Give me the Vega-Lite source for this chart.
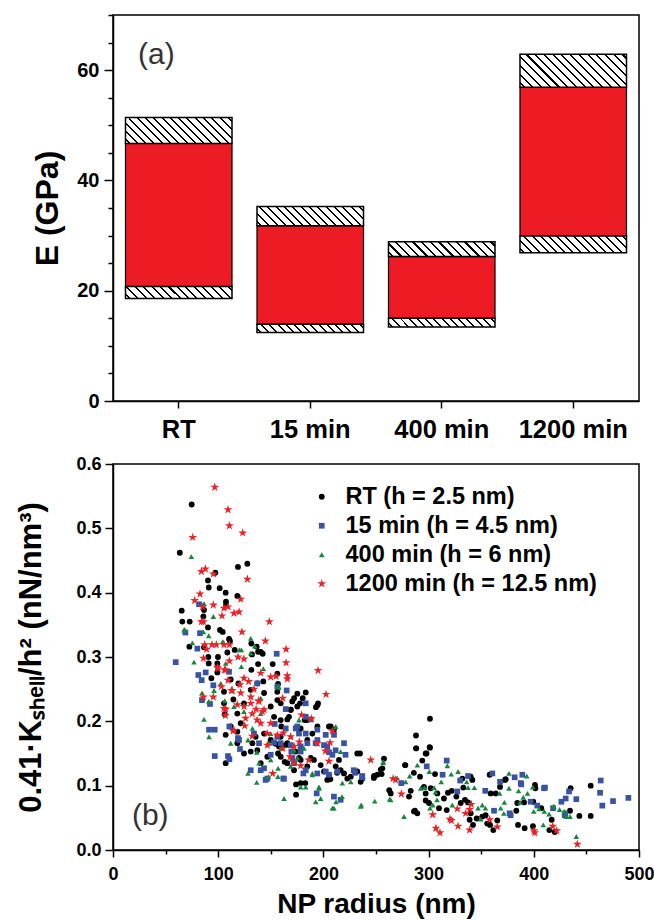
{
  "$schema": "https://vega.github.io/schema/vega-lite/v6.json",
  "padding": {"left": 15, "top": 4, "right": 4, "bottom": 0},
  "autosize": {"type": "pad"},
  "spacing": 10,
  "resolve": {"legend": {"color": "independent", "shape": "independent", "size": "independent"}},
  "config": {
    "font": "Liberation Sans",
    "view": {"stroke": "#000", "strokeWidth": 1.5},
    "axis": {"domainColor": "#000", "domainWidth": 1.5, "tickColor": "#000", "tickWidth": 1.5, "labelFont": "Liberation Sans", "labelFontWeight": "bold", "labelColor": "#000", "titleFont": "Liberation Sans", "titleFontWeight": "bold", "titleColor": "#000", "grid": false, "labelOverlap": false, "labelFlush": false}
  },
  "datasets": {
    "boxes": [
      {"t": "RT", "p": "bh", "lo": 18.6, "hi": 20.75},
      {"t": "RT", "p": "red", "lo": 20.75, "hi": 46.7},
      {"t": "RT", "p": "th", "lo": 46.7, "hi": 51.4},
      {"t": "15 min", "p": "bh", "lo": 12.4, "hi": 13.9},
      {"t": "15 min", "p": "red", "lo": 13.9, "hi": 31.8},
      {"t": "15 min", "p": "th", "lo": 31.8, "hi": 35.25},
      {"t": "400 min", "p": "bh", "lo": 13.4, "hi": 15.0},
      {"t": "400 min", "p": "red", "lo": 15.0, "hi": 26.2},
      {"t": "400 min", "p": "th", "lo": 26.2, "hi": 28.9},
      {"t": "1200 min", "p": "bh", "lo": 26.9, "hi": 29.9},
      {"t": "1200 min", "p": "red", "lo": 29.9, "hi": 56.9},
      {"t": "1200 min", "p": "th", "lo": 56.9, "hi": 62.9}
    ],
    "pts": [
      {"g":"RT","x":74.8,"y":0.537},{"g":"RT","x":63.5,"y":0.462},{"g":"RT","x":65.3,"y":0.372},{"g":"RT","x":65.9,"y":0.355},{"g":"RT","x":72.9,"y":0.355},{"g":"RT","x":72.6,"y":0.316},{"g":"RT","x":97.3,"y":0.431},{"g":"RT","x":90.3,"y":0.419},{"g":"RT","x":91,"y":0.408},{"g":"RT","x":101.4,"y":0.407},{"g":"RT","x":107.1,"y":0.4},{"g":"RT","x":118.8,"y":0.44},{"g":"RT","x":127.7,"y":0.445},{"g":"RT","x":118.2,"y":0.395},{"g":"RT","x":86.5,"y":0.373},{"g":"RT","x":85.9,"y":0.363},{"g":"RT","x":90.3,"y":0.346},{"g":"RT","x":101.7,"y":0.342},{"g":"RT","x":104.3,"y":0.339},{"g":"RT","x":107.4,"y":0.386},{"g":"RT","x":107.4,"y":0.381},{"g":"RT","x":86.5,"y":0.315},{"g":"RT","x":90.6,"y":0.3},{"g":"RT","x":99.8,"y":0.3},{"g":"RT","x":91,"y":0.29},{"g":"RT","x":99.2,"y":0.29},{"g":"RT","x":108.7,"y":0.307},{"g":"RT","x":111.2,"y":0.325},{"g":"RT","x":110.3,"y":0.328},{"g":"RT","x":115.7,"y":0.311},{"g":"RT","x":131.5,"y":0.321},{"g":"RT","x":132.1,"y":0.304},{"g":"RT","x":137.9,"y":0.308},{"g":"RT","x":137.9,"y":0.289},{"g":"RT","x":142.3,"y":0.305},{"g":"RT","x":136.6,"y":0.316},{"g":"RT","x":140.4,"y":0.308},{"g":"RT","x":151.8,"y":0.289},{"g":"RT","x":131.5,"y":0.28},{"g":"RT","x":142.9,"y":0.262},{"g":"RT","x":156.2,"y":0.274},{"g":"RT","x":156.9,"y":0.258},{"g":"RT","x":99.2,"y":0.276},{"g":"RT","x":93.5,"y":0.267},{"g":"RT","x":111.9,"y":0.265},{"g":"RT","x":105.5,"y":0.246},{"g":"RT","x":114.4,"y":0.234},{"g":"RT","x":106.2,"y":0.211},{"g":"RT","x":107.1,"y":0.179},{"g":"RT","x":107.1,"y":0.135},{"g":"RT","x":124.5,"y":0.228},{"g":"RT","x":130.9,"y":0.249},{"g":"RT","x":119.2,"y":0.259},{"g":"RT","x":121.4,"y":0.197},{"g":"RT","x":118.2,"y":0.184},{"g":"RT","x":132.5,"y":0.166},{"g":"RT","x":137.2,"y":0.155},{"g":"RT","x":143.6,"y":0.181},{"g":"RT","x":149.9,"y":0.171},{"g":"RT","x":159.4,"y":0.176},{"g":"RT","x":160,"y":0.192},{"g":"RT","x":165.7,"y":0.203},{"g":"RT","x":168.9,"y":0.218},{"g":"RT","x":175.2,"y":0.243},{"g":"RT","x":183.2,"y":0.245},{"g":"RT","x":180.3,"y":0.236},{"g":"RT","x":177.8,"y":0.228},{"g":"RT","x":172.1,"y":0.236},{"g":"RT","x":194.3,"y":0.225},{"g":"RT","x":194.9,"y":0.228},{"g":"RT","x":194.3,"y":0.192},{"g":"RT","x":206.9,"y":0.192},{"g":"RT","x":182.2,"y":0.202},{"g":"RT","x":156.9,"y":0.15},{"g":"RT","x":163.2,"y":0.137},{"g":"RT","x":172.1,"y":0.124},{"g":"RT","x":174,"y":0.102},{"g":"RT","x":182.8,"y":0.104},{"g":"RT","x":174,"y":0.086},{"g":"RT","x":187.9,"y":0.143},{"g":"RT","x":197.4,"y":0.132},{"g":"RT","x":200.6,"y":0.122},{"g":"RT","x":203.7,"y":0.109},{"g":"RT","x":146.7,"y":0.145},{"g":"RT","x":140.4,"y":0.135},{"g":"RT","x":130.9,"y":0.153},{"g":"RT","x":124.5,"y":0.15},{"g":"RT","x":118.2,"y":0.166},{"g":"RT","x":135.6,"y":0.176},{"g":"RT","x":154.6,"y":0.165},{"g":"RT","x":165.7,"y":0.166},{"g":"RT","x":178.4,"y":0.159},{"g":"RT","x":176.8,"y":0.143},{"g":"RT","x":184.7,"y":0.171},{"g":"RT","x":149.9,"y":0.223},{"g":"RT","x":156.2,"y":0.233},{"g":"RT","x":137.2,"y":0.259},{"g":"RT","x":143.6,"y":0.244},{"g":"RT","x":153.1,"y":0.207},{"g":"RT","x":118.2,"y":0.212},{"g":"RT","x":105.5,"y":0.228},{"g":"RT","x":111.9,"y":0.192},{"g":"RT","x":156.2,"y":0.246},{"g":"RT","x":159.4,"y":0.228},{"g":"RT","x":170.4,"y":0.231},{"g":"RT","x":175.2,"y":0.223},{"g":"RT","x":169,"y":0.218},{"g":"RT","x":167.3,"y":0.207},{"g":"RT","x":192.9,"y":0.222},{"g":"RT","x":184.7,"y":0.202},{"g":"RT","x":159.4,"y":0.202},{"g":"RT","x":205.3,"y":0.192},{"g":"RT","x":210,"y":0.187},{"g":"RT","x":189.5,"y":0.181},{"g":"RT","x":178.4,"y":0.189},{"g":"RT","x":157.8,"y":0.161},{"g":"RT","x":164,"y":0.163},{"g":"RT","x":173.7,"y":0.153},{"g":"RT","x":178.4,"y":0.14},{"g":"RT","x":159.4,"y":0.145},{"g":"RT","x":165.7,"y":0.135},{"g":"RT","x":184.7,"y":0.13},{"g":"RT","x":191,"y":0.14},{"g":"RT","x":205.3,"y":0.116},{"g":"RT","x":211.7,"y":0.13},{"g":"RT","x":216.4,"y":0.124},{"g":"RT","x":214.8,"y":0.14},{"g":"RT","x":219.6,"y":0.119},{"g":"RT","x":226,"y":0.114},{"g":"RT","x":232.2,"y":0.122},{"g":"RT","x":237,"y":0.111},{"g":"RT","x":234.8,"y":0.15},{"g":"RT","x":232.2,"y":0.15},{"g":"RT","x":248.1,"y":0.115},{"g":"RT","x":251.3,"y":0.117},{"g":"RT","x":256,"y":0.127},{"g":"RT","x":178.4,"y":0.104},{"g":"RT","x":301.3,"y":0.204},{"g":"RT","x":288,"y":0.178},{"g":"RT","x":288,"y":0.158},{"g":"RT","x":301.3,"y":0.159},{"g":"RT","x":297.2,"y":0.15},{"g":"RT","x":294,"y":0.139},{"g":"RT","x":277.9,"y":0.132},{"g":"RT","x":254.5,"y":0.125},{"g":"RT","x":248,"y":0.112},{"g":"RT","x":235.4,"y":0.106},{"g":"RT","x":222.7,"y":0.111},{"g":"RT","x":213,"y":0.12},{"g":"RT","x":206.5,"y":0.11},{"g":"RT","x":262.6,"y":0.093},{"g":"RT","x":264,"y":0.088},{"g":"RT","x":281.4,"y":0.083},{"g":"RT","x":286.1,"y":0.06},{"g":"RT","x":289.3,"y":0.057},{"g":"RT","x":291.8,"y":0.114},{"g":"RT","x":286,"y":0.12},{"g":"RT","x":295.6,"y":0.098},{"g":"RT","x":302,"y":0.096},{"g":"RT","x":297.2,"y":0.077},{"g":"RT","x":297.2,"y":0.088},{"g":"RT","x":306.1,"y":0.118},{"g":"RT","x":308.3,"y":0.088},{"g":"RT","x":300.4,"y":0.073},{"g":"RT","x":309.9,"y":0.065},{"g":"RT","x":314.6,"y":0.08},{"g":"RT","x":317.2,"y":0.062},{"g":"RT","x":318.4,"y":0.089},{"g":"RT","x":322,"y":0.092},{"g":"RT","x":326.4,"y":0.083},{"g":"RT","x":330.5,"y":0.073},{"g":"RT","x":333,"y":0.097},{"g":"RT","x":332.1,"y":0.111},{"g":"RT","x":337.5,"y":0.074},{"g":"RT","x":334.6,"y":0.078},{"g":"RT","x":340,"y":0.057},{"g":"RT","x":339,"y":0.047},{"g":"RT","x":342.2,"y":0.039},{"g":"RT","x":345.7,"y":0.049},{"g":"RT","x":340,"y":0.114},{"g":"RT","x":341.6,"y":0.109},{"g":"RT","x":351,"y":0.052},{"g":"RT","x":354.2,"y":0.054},{"g":"RT","x":355.7,"y":0.041},{"g":"RT","x":358,"y":0.117},{"g":"RT","x":358.4,"y":0.039},{"g":"RT","x":361.5,"y":0.031},{"g":"RT","x":365.3,"y":0.046},{"g":"RT","x":359,"y":0.088},{"g":"RT","x":363.8,"y":0.088},{"g":"RT","x":367.9,"y":0.098},{"g":"RT","x":372.6,"y":0.109},{"g":"RT","x":373.3,"y":0.11},{"g":"RT","x":383.4,"y":0.061},{"g":"RT","x":384.3,"y":0.073},{"g":"RT","x":385,"y":0.039},{"g":"RT","x":391.3,"y":0.034},{"g":"RT","x":399.2,"y":0.037},{"g":"RT","x":401.1,"y":0.101},{"g":"RT","x":401.5,"y":0.096},{"g":"RT","x":399.5,"y":0.075},{"g":"RT","x":407.1,"y":0.065},{"g":"RT","x":414.8,"y":0.031},{"g":"RT","x":419.9,"y":0.028},{"g":"RT","x":417,"y":0.047},{"g":"RT","x":434.4,"y":0.061},{"g":"RT","x":435,"y":0.096},{"g":"RT","x":443.3,"y":0.053},{"g":"RT","x":454.1,"y":0.1},{"g":"RT","x":454.1,"y":0.053},{"g":"RT","x":390.7,"y":0.074},{"g":"RT","x":257.6,"y":0.142},{"g":"RT","x":255.4,"y":0.118},{"g":"RT","x":288.3,"y":0.158},{"g":"RT","x":301,"y":0.16},{"g":"RT","x":298,"y":0.15},{"g":"RT","x":277.6,"y":0.132},{"g":"RT","x":283,"y":0.092},{"g":"RT","x":287,"y":0.061},
      {"g":"15 min","x":59.6,"y":0.292},{"g":"15 min","x":68.8,"y":0.338},{"g":"15 min","x":81.8,"y":0.382},{"g":"15 min","x":82.7,"y":0.337},{"g":"15 min","x":80.2,"y":0.313},{"g":"15 min","x":81.1,"y":0.272},{"g":"15 min","x":84.3,"y":0.264},{"g":"15 min","x":88.1,"y":0.276},{"g":"15 min","x":84.6,"y":0.233},{"g":"15 min","x":92.2,"y":0.227},{"g":"15 min","x":95.4,"y":0.256},{"g":"15 min","x":91.3,"y":0.187},{"g":"15 min","x":96.7,"y":0.187},{"g":"15 min","x":96.7,"y":0.146},{"g":"15 min","x":110.3,"y":0.277},{"g":"15 min","x":110.6,"y":0.192},{"g":"15 min","x":109.3,"y":0.146},{"g":"15 min","x":110.6,"y":0.141},{"g":"15 min","x":120.7,"y":0.157},{"g":"15 min","x":118.8,"y":0.174},{"g":"15 min","x":140.4,"y":0.124},{"g":"15 min","x":145.1,"y":0.109},{"g":"15 min","x":143.5,"y":0.127},{"g":"15 min","x":146.7,"y":0.111},{"g":"15 min","x":161.9,"y":0.111},{"g":"15 min","x":155.6,"y":0.305},{"g":"15 min","x":156.2,"y":0.254},{"g":"15 min","x":165.1,"y":0.248},{"g":"15 min","x":153.7,"y":0.196},{"g":"15 min","x":156.2,"y":0.176},{"g":"15 min","x":175.2,"y":0.192},{"g":"15 min","x":183.2,"y":0.207},{"g":"15 min","x":194.3,"y":0.171},{"g":"15 min","x":203.7,"y":0.161},{"g":"15 min","x":205.3,"y":0.152},{"g":"15 min","x":202.2,"y":0.122},{"g":"15 min","x":205.3,"y":0.117},{"g":"15 min","x":193.6,"y":0.088},{"g":"15 min","x":210,"y":0.083},{"g":"15 min","x":178.4,"y":0.153},{"g":"15 min","x":169.5,"y":0.153},{"g":"15 min","x":172.1,"y":0.135},{"g":"15 min","x":181,"y":0.119},{"g":"15 min","x":183.2,"y":0.124},{"g":"15 min","x":149.9,"y":0.148},{"g":"15 min","x":138.8,"y":0.166},{"g":"15 min","x":130.9,"y":0.124},{"g":"15 min","x":119.8,"y":0.171},{"g":"15 min","x":176.8,"y":0.181},{"g":"15 min","x":137.2,"y":0.259},{"g":"15 min","x":134,"y":0.181},{"g":"15 min","x":183.2,"y":0.228},{"g":"15 min","x":164.2,"y":0.219},{"g":"15 min","x":187.9,"y":0.203},{"g":"15 min","x":173.7,"y":0.189},{"g":"15 min","x":164.2,"y":0.189},{"g":"15 min","x":194.2,"y":0.187},{"g":"15 min","x":183.2,"y":0.181},{"g":"15 min","x":202.2,"y":0.179},{"g":"15 min","x":153,"y":0.167},{"g":"15 min","x":159.4,"y":0.166},{"g":"15 min","x":169,"y":0.163},{"g":"15 min","x":178.4,"y":0.161},{"g":"15 min","x":184.7,"y":0.166},{"g":"15 min","x":192.6,"y":0.166},{"g":"15 min","x":200.6,"y":0.163},{"g":"15 min","x":211.6,"y":0.155},{"g":"15 min","x":219.6,"y":0.166},{"g":"15 min","x":208.5,"y":0.148},{"g":"15 min","x":221,"y":0.148},{"g":"15 min","x":170.5,"y":0.143},{"g":"15 min","x":194.2,"y":0.119},{"g":"15 min","x":213.2,"y":0.122},{"g":"15 min","x":230,"y":0.12},{"g":"15 min","x":237,"y":0.113},{"g":"15 min","x":162.5,"y":0.111},{"g":"15 min","x":210.1,"y":0.179},{"g":"15 min","x":216.4,"y":0.078},{"g":"15 min","x":228.8,"y":0.124},{"g":"15 min","x":236.8,"y":0.115},{"g":"15 min","x":298.2,"y":0.13},{"g":"15 min","x":274,"y":0.104},{"g":"15 min","x":317.2,"y":0.139},{"g":"15 min","x":313.3,"y":0.117},{"g":"15 min","x":327.3,"y":0.091},{"g":"15 min","x":330,"y":0.108},{"g":"15 min","x":337.5,"y":0.115},{"g":"15 min","x":353.9,"y":0.092},{"g":"15 min","x":360.6,"y":0.119},{"g":"15 min","x":367.9,"y":0.106},{"g":"15 min","x":362.2,"y":0.061},{"g":"15 min","x":377,"y":0.057},{"g":"15 min","x":381.8,"y":0.113},{"g":"15 min","x":389.1,"y":0.117},{"g":"15 min","x":387.6,"y":0.104},{"g":"15 min","x":397,"y":0.075},{"g":"15 min","x":409.7,"y":0.096},{"g":"15 min","x":403.3,"y":0.069},{"g":"15 min","x":426.2,"y":0.075},{"g":"15 min","x":430.3,"y":0.08},{"g":"15 min","x":433.5,"y":0.091},{"g":"15 min","x":430,"y":0.057},{"g":"15 min","x":440.4,"y":0.079},{"g":"15 min","x":463.6,"y":0.108},{"g":"15 min","x":463,"y":0.089},{"g":"15 min","x":465.1,"y":0.069},{"g":"15 min","x":475.3,"y":0.076},{"g":"15 min","x":489.9,"y":0.081},{"g":"15 min","x":410.6,"y":0.097},{"g":"15 min","x":378,"y":0.054},{"g":"15 min","x":418.3,"y":0.065},{"g":"15 min","x":429.4,"y":0.054},{"g":"15 min","x":388.1,"y":0.102},
      {"g":"400 min","x":74.5,"y":0.456},{"g":"400 min","x":67.5,"y":0.342},{"g":"400 min","x":75.4,"y":0.322},{"g":"400 min","x":77,"y":0.292},{"g":"400 min","x":86.5,"y":0.383},{"g":"400 min","x":85.9,"y":0.339},{"g":"400 min","x":95.4,"y":0.363},{"g":"400 min","x":91,"y":0.333},{"g":"400 min","x":84.6,"y":0.244},{"g":"400 min","x":91,"y":0.231},{"g":"400 min","x":86.5,"y":0.203},{"g":"400 min","x":91.3,"y":0.176},{"g":"400 min","x":104.9,"y":0.322},{"g":"400 min","x":107.1,"y":0.29},{"g":"400 min","x":122,"y":0.311},{"g":"400 min","x":122,"y":0.285},{"g":"400 min","x":130.9,"y":0.329},{"g":"400 min","x":134.7,"y":0.317},{"g":"400 min","x":130.9,"y":0.306},{"g":"400 min","x":142.9,"y":0.282},{"g":"400 min","x":102.4,"y":0.259},{"g":"400 min","x":96,"y":0.248},{"g":"400 min","x":106.2,"y":0.232},{"g":"400 min","x":115,"y":0.223},{"g":"400 min","x":124.5,"y":0.215},{"g":"400 min","x":140.4,"y":0.212},{"g":"400 min","x":157.8,"y":0.253},{"g":"400 min","x":140.4,"y":0.236},{"g":"400 min","x":111.9,"y":0.166},{"g":"400 min","x":128.3,"y":0.171},{"g":"400 min","x":132.5,"y":0.189},{"g":"400 min","x":136.6,"y":0.152},{"g":"400 min","x":138.8,"y":0.135},{"g":"400 min","x":128.3,"y":0.119},{"g":"400 min","x":136.6,"y":0.105},{"g":"400 min","x":147.7,"y":0.114},{"g":"400 min","x":149.9,"y":0.14},{"g":"400 min","x":156.9,"y":0.127},{"g":"400 min","x":162.6,"y":0.08},{"g":"400 min","x":168.9,"y":0.13},{"g":"400 min","x":178.4,"y":0.098},{"g":"400 min","x":183.2,"y":0.098},{"g":"400 min","x":192.7,"y":0.075},{"g":"400 min","x":197.4,"y":0.08},{"g":"400 min","x":195.8,"y":0.098},{"g":"400 min","x":189.5,"y":0.119},{"g":"400 min","x":176.8,"y":0.202},{"g":"400 min","x":168.9,"y":0.176},{"g":"400 min","x":181.6,"y":0.158},{"g":"400 min","x":159.4,"y":0.158},{"g":"400 min","x":208.5,"y":0.065},{"g":"400 min","x":172.1,"y":0.155},{"g":"400 min","x":175.2,"y":0.143},{"g":"400 min","x":149.9,"y":0.181},{"g":"400 min","x":148.3,"y":0.166},{"g":"400 min","x":156.8,"y":0.254},{"g":"400 min","x":211.7,"y":0.192},{"g":"400 min","x":156.8,"y":0.114},{"g":"400 min","x":195.8,"y":0.096},{"g":"400 min","x":210,"y":0.065},{"g":"400 min","x":212,"y":0.075},{"g":"400 min","x":236,"y":0.07},{"g":"400 min","x":248.8,"y":0.076},{"g":"400 min","x":226,"y":0.106},{"g":"400 min","x":189.5,"y":0.117},{"g":"400 min","x":216.4,"y":0.153},{"g":"400 min","x":218,"y":0.104},{"g":"400 min","x":217.7,"y":0.083},{"g":"400 min","x":235.4,"y":0.068},{"g":"400 min","x":257,"y":0.137},{"g":"400 min","x":264,"y":0.078},{"g":"400 min","x":276.6,"y":0.052},{"g":"400 min","x":278.2,"y":0.106},{"g":"400 min","x":282,"y":0.115},{"g":"400 min","x":270,"y":0.112},{"g":"400 min","x":289.3,"y":0.132},{"g":"400 min","x":292.5,"y":0.096},{"g":"400 min","x":296,"y":0.097},{"g":"400 min","x":300.7,"y":0.122},{"g":"400 min","x":305.2,"y":0.097},{"g":"400 min","x":306.5,"y":0.09},{"g":"400 min","x":301.3,"y":0.065},{"g":"400 min","x":304,"y":0.07},{"g":"400 min","x":308,"y":0.078},{"g":"400 min","x":307,"y":0.034},{"g":"400 min","x":312,"y":0.106},{"g":"400 min","x":317.8,"y":0.131},{"g":"400 min","x":321.5,"y":0.118},{"g":"400 min","x":328,"y":0.122},{"g":"400 min","x":322.5,"y":0.07},{"g":"400 min","x":336.2,"y":0.106},{"g":"400 min","x":337.5,"y":0.097},{"g":"400 min","x":343.5,"y":0.097},{"g":"400 min","x":347,"y":0.065},{"g":"400 min","x":349.5,"y":0.048},{"g":"400 min","x":351,"y":0.07},{"g":"400 min","x":354,"y":0.065},{"g":"400 min","x":367.5,"y":0.088},{"g":"400 min","x":368.5,"y":0.065},{"g":"400 min","x":371.5,"y":0.057},{"g":"400 min","x":372,"y":0.074},{"g":"400 min","x":376.4,"y":0.119},{"g":"400 min","x":376.4,"y":0.096},{"g":"400 min","x":385.5,"y":0.092},{"g":"400 min","x":387,"y":0.074},{"g":"400 min","x":390,"y":0.082},{"g":"400 min","x":393.3,"y":0.115},{"g":"400 min","x":394,"y":0.088},{"g":"400 min","x":399,"y":0.098},{"g":"400 min","x":400,"y":0.06},{"g":"400 min","x":405,"y":0.064},{"g":"400 min","x":410,"y":0.06},{"g":"400 min","x":409,"y":0.039},{"g":"400 min","x":414.5,"y":0.056},{"g":"400 min","x":419,"y":0.068},{"g":"400 min","x":424.5,"y":0.063},{"g":"400 min","x":429,"y":0.06},{"g":"400 min","x":434.4,"y":0.052},{"g":"400 min","x":431,"y":0.052},{"g":"400 min","x":440.4,"y":0.021},{"g":"400 min","x":263,"y":0.079},{"g":"400 min","x":256.7,"y":0.136},{"g":"400 min","x":120.1,"y":0.311},{"g":"400 min","x":104.3,"y":0.324},{"g":"400 min","x":68.1,"y":0.343},
      {"g":"1200 min","x":96.7,"y":0.564},{"g":"1200 min","x":109.3,"y":0.529},{"g":"1200 min","x":110.6,"y":0.504},{"g":"1200 min","x":123.3,"y":0.493},{"g":"1200 min","x":75.7,"y":0.486},{"g":"1200 min","x":87.8,"y":0.437},{"g":"1200 min","x":84,"y":0.433},{"g":"1200 min","x":95.4,"y":0.429},{"g":"1200 min","x":127.7,"y":0.421},{"g":"1200 min","x":82.7,"y":0.398},{"g":"1200 min","x":77.6,"y":0.388},{"g":"1200 min","x":121.4,"y":0.39},{"g":"1200 min","x":85.2,"y":0.378},{"g":"1200 min","x":95.4,"y":0.381},{"g":"1200 min","x":105.5,"y":0.376},{"g":"1200 min","x":109.3,"y":0.378},{"g":"1200 min","x":119.8,"y":0.37},{"g":"1200 min","x":115,"y":0.368},{"g":"1200 min","x":103.6,"y":0.364},{"g":"1200 min","x":148.6,"y":0.355},{"g":"1200 min","x":84,"y":0.355},{"g":"1200 min","x":86,"y":0.355},{"g":"1200 min","x":122.6,"y":0.339},{"g":"1200 min","x":87.2,"y":0.319},{"g":"1200 min","x":94.1,"y":0.319},{"g":"1200 min","x":98.2,"y":0.319},{"g":"1200 min","x":105.5,"y":0.319},{"g":"1200 min","x":110.6,"y":0.319},{"g":"1200 min","x":89,"y":0.312},{"g":"1200 min","x":144.8,"y":0.325},{"g":"1200 min","x":164.5,"y":0.312},{"g":"1200 min","x":118.8,"y":0.3},{"g":"1200 min","x":124.5,"y":0.297},{"g":"1200 min","x":86,"y":0.298},{"g":"1200 min","x":110.6,"y":0.294},{"g":"1200 min","x":164.5,"y":0.291},{"g":"1200 min","x":194.9,"y":0.279},{"g":"1200 min","x":99.8,"y":0.282},{"g":"1200 min","x":106,"y":0.28},{"g":"1200 min","x":155,"y":0.27},{"g":"1200 min","x":165.7,"y":0.271},{"g":"1200 min","x":165.7,"y":0.266},{"g":"1200 min","x":109.3,"y":0.264},{"g":"1200 min","x":124.5,"y":0.267},{"g":"1200 min","x":112.5,"y":0.248},{"g":"1200 min","x":120.7,"y":0.257},{"g":"1200 min","x":128.9,"y":0.262},{"g":"1200 min","x":202.5,"y":0.242},{"g":"1200 min","x":86,"y":0.238},{"g":"1200 min","x":138.5,"y":0.232},{"g":"1200 min","x":161.3,"y":0.236},{"g":"1200 min","x":118.2,"y":0.226},{"g":"1200 min","x":124.5,"y":0.223},{"g":"1200 min","x":130.9,"y":0.228},{"g":"1200 min","x":136,"y":0.219},{"g":"1200 min","x":105.5,"y":0.22},{"g":"1200 min","x":106.8,"y":0.209},{"g":"1200 min","x":143.6,"y":0.218},{"g":"1200 min","x":149.9,"y":0.197},{"g":"1200 min","x":140.4,"y":0.197},{"g":"1200 min","x":137,"y":0.202},{"g":"1200 min","x":125.2,"y":0.193},{"g":"1200 min","x":115,"y":0.186},{"g":"1200 min","x":146.7,"y":0.181},{"g":"1200 min","x":156.2,"y":0.179},{"g":"1200 min","x":161.9,"y":0.182},{"g":"1200 min","x":168.9,"y":0.176},{"g":"1200 min","x":188.5,"y":0.204},{"g":"1200 min","x":177.1,"y":0.168},{"g":"1200 min","x":172.1,"y":0.161},{"g":"1200 min","x":161.3,"y":0.158},{"g":"1200 min","x":186,"y":0.14},{"g":"1200 min","x":178.4,"y":0.131},{"g":"1200 min","x":151.8,"y":0.119},{"g":"1200 min","x":168.3,"y":0.145},{"g":"1200 min","x":201.9,"y":0.154},{"g":"1200 min","x":194.3,"y":0.166},{"g":"1200 min","x":172.1,"y":0.136},{"g":"1200 min","x":205.3,"y":0.138},{"g":"1200 min","x":179.3,"y":0.21},{"g":"1200 min","x":208.5,"y":0.185},{"g":"1200 min","x":206.3,"y":0.167},{"g":"1200 min","x":245,"y":0.14},{"g":"1200 min","x":266.2,"y":0.111},{"g":"1200 min","x":268.6,"y":0.109},{"g":"1200 min","x":274.1,"y":0.087},{"g":"1200 min","x":303.9,"y":0.055},{"g":"1200 min","x":307,"y":0.034},{"g":"1200 min","x":310.8,"y":0.027},{"g":"1200 min","x":320.3,"y":0.048},{"g":"1200 min","x":321.6,"y":0.046},{"g":"1200 min","x":327.3,"y":0.064},{"g":"1200 min","x":328,"y":0.037},{"g":"1200 min","x":335.2,"y":0.057},{"g":"1200 min","x":339,"y":0.063},{"g":"1200 min","x":340.6,"y":0.071},{"g":"1200 min","x":339,"y":0.031},{"g":"1200 min","x":358.1,"y":0.047},{"g":"1200 min","x":365.3,"y":0.036},{"g":"1200 min","x":400.2,"y":0.03},{"g":"1200 min","x":400.9,"y":0.027},{"g":"1200 min","x":418,"y":0.037},{"g":"1200 min","x":421.8,"y":0.03},{"g":"1200 min","x":441.4,"y":0.009},{"g":"1200 min","x":99.2,"y":0.284},{"g":"1200 min","x":107.1,"y":0.28},{"g":"1200 min","x":140.4,"y":0.275},{"g":"1200 min","x":149.9,"y":0.269},{"g":"1200 min","x":95.3,"y":0.238},{"g":"1200 min","x":103,"y":0.254},{"g":"1200 min","x":113.4,"y":0.248},{"g":"1200 min","x":121.4,"y":0.244},{"g":"1200 min","x":107.1,"y":0.219},{"g":"1200 min","x":132.4,"y":0.212},{"g":"1200 min","x":138.8,"y":0.231},{"g":"1200 min","x":142,"y":0.215},{"g":"1200 min","x":114.1,"y":0.185},{"g":"1200 min","x":132.4,"y":0.177},{"g":"1200 min","x":146.7,"y":0.163},{"g":"1200 min","x":126,"y":0.205},{"g":"1200 min","x":131,"y":0.238},{"g":"1200 min","x":134,"y":0.25}
    ]
  },
  "vconcat": [
    {
      "width": 526,
      "height": 386,
      "data": {"name": "boxes"},
      "encoding": {
        "x": {"field": "t", "type": "nominal", "sort": ["RT", "15 min", "400 min", "1200 min"], "scale": {"paddingInner": 0.19, "paddingOuter": 0.095}, "axis": {"title": null, "labelFontSize": 25.5, "labelAngle": 0, "tickSize": 7, "labelPadding": 9}},
        "y": {"field": "lo", "type": "quantitative", "scale": {"domain": [0, 70], "nice": false, "zero": true}, "axis": {"title": "E (GPa)", "titleFontSize": 32, "titlePadding": 12, "values": [0, 5, 10, 15, 20, 25, 30, 35, 40, 45, 50, 55, 60, 65, 70], "labelExpr": "datum.value % 20 === 0 ? datum.label : ''", "tickSize": {"condition": {"test": "datum.value % 20 === 0", "value": 9}, "value": 5}, "labelFontSize": 20, "labelPadding": 5}},
        "y2": {"field": "hi"}
      },
      "layer": [
        {"transform": [{"filter": "datum.p === 'red'"}], "mark": {"type": "bar", "fill": "#ed1c24", "stroke": "#000", "strokeWidth": 1.2}},
        {"transform": [{"filter": "datum.t === 'RT' && datum.p === 'th'"}], "mark": {"type": "bar", "stroke": "#000", "strokeWidth": 1.5, "fill": {"gradient": "linear", "x1": 0, "y1": 1, "x2": 1.1738, "y2": 0.7145, "stops": [
          {"offset":0.0238,"color":"#fff"},{"offset":0.0238,"color":"#000"},{"offset":0.0388,"color":"#000"},{"offset":0.0388,"color":"#fff"},
          {"offset":0.0863,"color":"#fff"},{"offset":0.0863,"color":"#000"},{"offset":0.1013,"color":"#000"},{"offset":0.1013,"color":"#fff"},
          {"offset":0.1488,"color":"#fff"},{"offset":0.1488,"color":"#000"},{"offset":0.1638,"color":"#000"},{"offset":0.1638,"color":"#fff"},
          {"offset":0.2113,"color":"#fff"},{"offset":0.2113,"color":"#000"},{"offset":0.2263,"color":"#000"},{"offset":0.2263,"color":"#fff"},
          {"offset":0.2738,"color":"#fff"},{"offset":0.2738,"color":"#000"},{"offset":0.2888,"color":"#000"},{"offset":0.2888,"color":"#fff"},
          {"offset":0.3363,"color":"#fff"},{"offset":0.3363,"color":"#000"},{"offset":0.3513,"color":"#000"},{"offset":0.3513,"color":"#fff"},
          {"offset":0.3988,"color":"#fff"},{"offset":0.3988,"color":"#000"},{"offset":0.4138,"color":"#000"},{"offset":0.4138,"color":"#fff"},
          {"offset":0.4613,"color":"#fff"},{"offset":0.4613,"color":"#000"},{"offset":0.4763,"color":"#000"},{"offset":0.4763,"color":"#fff"},
          {"offset":0.5238,"color":"#fff"},{"offset":0.5238,"color":"#000"},{"offset":0.5388,"color":"#000"},{"offset":0.5388,"color":"#fff"},
          {"offset":0.5863,"color":"#fff"},{"offset":0.5863,"color":"#000"},{"offset":0.6013,"color":"#000"},{"offset":0.6013,"color":"#fff"},
          {"offset":0.6488,"color":"#fff"},{"offset":0.6488,"color":"#000"},{"offset":0.6638,"color":"#000"},{"offset":0.6638,"color":"#fff"},
          {"offset":0.7113,"color":"#fff"},{"offset":0.7113,"color":"#000"},{"offset":0.7263,"color":"#000"},{"offset":0.7263,"color":"#fff"},
          {"offset":0.7738,"color":"#fff"},{"offset":0.7738,"color":"#000"},{"offset":0.7888,"color":"#000"},{"offset":0.7888,"color":"#fff"},
          {"offset":0.8363,"color":"#fff"},{"offset":0.8363,"color":"#000"},{"offset":0.8513,"color":"#000"},{"offset":0.8513,"color":"#fff"},
          {"offset":0.8988,"color":"#fff"},{"offset":0.8988,"color":"#000"},{"offset":0.9138,"color":"#000"},{"offset":0.9138,"color":"#fff"},
          {"offset":0.9613,"color":"#fff"},{"offset":0.9613,"color":"#000"},{"offset":0.9763,"color":"#000"},{"offset":0.9763,"color":"#fff"}]}}},
        {"transform": [{"filter": "datum.t === 'RT' && datum.p === 'bh'"}], "mark": {"type": "bar", "stroke": "#000", "strokeWidth": 1.5, "fill": {"gradient": "linear", "x1": 0, "y1": 1, "x2": 1.098, "y2": 0.8773, "stops": [
          {"offset":0.0271,"color":"#fff"},{"offset":0.0271,"color":"#000"},{"offset":0.0443,"color":"#000"},{"offset":0.0443,"color":"#fff"},
          {"offset":0.0986,"color":"#fff"},{"offset":0.0986,"color":"#000"},{"offset":0.1157,"color":"#000"},{"offset":0.1157,"color":"#fff"},
          {"offset":0.17,"color":"#fff"},{"offset":0.17,"color":"#000"},{"offset":0.1871,"color":"#000"},{"offset":0.1871,"color":"#fff"},
          {"offset":0.2414,"color":"#fff"},{"offset":0.2414,"color":"#000"},{"offset":0.2586,"color":"#000"},{"offset":0.2586,"color":"#fff"},
          {"offset":0.3129,"color":"#fff"},{"offset":0.3129,"color":"#000"},{"offset":0.33,"color":"#000"},{"offset":0.33,"color":"#fff"},
          {"offset":0.3843,"color":"#fff"},{"offset":0.3843,"color":"#000"},{"offset":0.4014,"color":"#000"},{"offset":0.4014,"color":"#fff"},
          {"offset":0.4557,"color":"#fff"},{"offset":0.4557,"color":"#000"},{"offset":0.4729,"color":"#000"},{"offset":0.4729,"color":"#fff"},
          {"offset":0.5271,"color":"#fff"},{"offset":0.5271,"color":"#000"},{"offset":0.5443,"color":"#000"},{"offset":0.5443,"color":"#fff"},
          {"offset":0.5986,"color":"#fff"},{"offset":0.5986,"color":"#000"},{"offset":0.6157,"color":"#000"},{"offset":0.6157,"color":"#fff"},
          {"offset":0.67,"color":"#fff"},{"offset":0.67,"color":"#000"},{"offset":0.6871,"color":"#000"},{"offset":0.6871,"color":"#fff"},
          {"offset":0.7414,"color":"#fff"},{"offset":0.7414,"color":"#000"},{"offset":0.7586,"color":"#000"},{"offset":0.7586,"color":"#fff"},
          {"offset":0.8129,"color":"#fff"},{"offset":0.8129,"color":"#000"},{"offset":0.83,"color":"#000"},{"offset":0.83,"color":"#fff"},
          {"offset":0.8843,"color":"#fff"},{"offset":0.8843,"color":"#000"},{"offset":0.9014,"color":"#000"},{"offset":0.9014,"color":"#fff"},
          {"offset":0.9557,"color":"#fff"},{"offset":0.9557,"color":"#000"},{"offset":0.9729,"color":"#000"},{"offset":0.9729,"color":"#fff"}]}}},
        {"transform": [{"filter": "datum.t === '15 min' && datum.p === 'th'"}], "mark": {"type": "bar", "stroke": "#000", "strokeWidth": 1.5, "fill": {"gradient": "linear", "x1": 0, "y1": 1, "x2": 1.1421, "y2": 0.7963, "stops": [
          {"offset":0.0253,"color":"#fff"},{"offset":0.0253,"color":"#000"},{"offset":0.0413,"color":"#000"},{"offset":0.0413,"color":"#fff"},
          {"offset":0.092,"color":"#fff"},{"offset":0.092,"color":"#000"},{"offset":0.108,"color":"#000"},{"offset":0.108,"color":"#fff"},
          {"offset":0.1587,"color":"#fff"},{"offset":0.1587,"color":"#000"},{"offset":0.1747,"color":"#000"},{"offset":0.1747,"color":"#fff"},
          {"offset":0.2253,"color":"#fff"},{"offset":0.2253,"color":"#000"},{"offset":0.2413,"color":"#000"},{"offset":0.2413,"color":"#fff"},
          {"offset":0.292,"color":"#fff"},{"offset":0.292,"color":"#000"},{"offset":0.308,"color":"#000"},{"offset":0.308,"color":"#fff"},
          {"offset":0.3587,"color":"#fff"},{"offset":0.3587,"color":"#000"},{"offset":0.3747,"color":"#000"},{"offset":0.3747,"color":"#fff"},
          {"offset":0.4253,"color":"#fff"},{"offset":0.4253,"color":"#000"},{"offset":0.4413,"color":"#000"},{"offset":0.4413,"color":"#fff"},
          {"offset":0.492,"color":"#fff"},{"offset":0.492,"color":"#000"},{"offset":0.508,"color":"#000"},{"offset":0.508,"color":"#fff"},
          {"offset":0.5587,"color":"#fff"},{"offset":0.5587,"color":"#000"},{"offset":0.5747,"color":"#000"},{"offset":0.5747,"color":"#fff"},
          {"offset":0.6253,"color":"#fff"},{"offset":0.6253,"color":"#000"},{"offset":0.6413,"color":"#000"},{"offset":0.6413,"color":"#fff"},
          {"offset":0.692,"color":"#fff"},{"offset":0.692,"color":"#000"},{"offset":0.708,"color":"#000"},{"offset":0.708,"color":"#fff"},
          {"offset":0.7587,"color":"#fff"},{"offset":0.7587,"color":"#000"},{"offset":0.7747,"color":"#000"},{"offset":0.7747,"color":"#fff"},
          {"offset":0.8253,"color":"#fff"},{"offset":0.8253,"color":"#000"},{"offset":0.8413,"color":"#000"},{"offset":0.8413,"color":"#fff"},
          {"offset":0.892,"color":"#fff"},{"offset":0.892,"color":"#000"},{"offset":0.908,"color":"#000"},{"offset":0.908,"color":"#fff"},
          {"offset":0.9587,"color":"#fff"},{"offset":0.9587,"color":"#000"},{"offset":0.9747,"color":"#000"},{"offset":0.9747,"color":"#fff"}]}}},
        {"transform": [{"filter": "datum.t === '15 min' && datum.p === 'bh'"}], "mark": {"type": "bar", "stroke": "#000", "strokeWidth": 1.5, "fill": {"gradient": "linear", "x1": 0, "y1": 1, "x2": 1.0714, "y2": 0.9165, "stops": [
          {"offset":0.0271,"color":"#fff"},{"offset":0.0271,"color":"#000"},{"offset":0.0443,"color":"#000"},{"offset":0.0443,"color":"#fff"},
          {"offset":0.0986,"color":"#fff"},{"offset":0.0986,"color":"#000"},{"offset":0.1157,"color":"#000"},{"offset":0.1157,"color":"#fff"},
          {"offset":0.17,"color":"#fff"},{"offset":0.17,"color":"#000"},{"offset":0.1871,"color":"#000"},{"offset":0.1871,"color":"#fff"},
          {"offset":0.2414,"color":"#fff"},{"offset":0.2414,"color":"#000"},{"offset":0.2586,"color":"#000"},{"offset":0.2586,"color":"#fff"},
          {"offset":0.3129,"color":"#fff"},{"offset":0.3129,"color":"#000"},{"offset":0.33,"color":"#000"},{"offset":0.33,"color":"#fff"},
          {"offset":0.3843,"color":"#fff"},{"offset":0.3843,"color":"#000"},{"offset":0.4014,"color":"#000"},{"offset":0.4014,"color":"#fff"},
          {"offset":0.4557,"color":"#fff"},{"offset":0.4557,"color":"#000"},{"offset":0.4729,"color":"#000"},{"offset":0.4729,"color":"#fff"},
          {"offset":0.5271,"color":"#fff"},{"offset":0.5271,"color":"#000"},{"offset":0.5443,"color":"#000"},{"offset":0.5443,"color":"#fff"},
          {"offset":0.5986,"color":"#fff"},{"offset":0.5986,"color":"#000"},{"offset":0.6157,"color":"#000"},{"offset":0.6157,"color":"#fff"},
          {"offset":0.67,"color":"#fff"},{"offset":0.67,"color":"#000"},{"offset":0.6871,"color":"#000"},{"offset":0.6871,"color":"#fff"},
          {"offset":0.7414,"color":"#fff"},{"offset":0.7414,"color":"#000"},{"offset":0.7586,"color":"#000"},{"offset":0.7586,"color":"#fff"},
          {"offset":0.8129,"color":"#fff"},{"offset":0.8129,"color":"#000"},{"offset":0.83,"color":"#000"},{"offset":0.83,"color":"#fff"},
          {"offset":0.8843,"color":"#fff"},{"offset":0.8843,"color":"#000"},{"offset":0.9014,"color":"#000"},{"offset":0.9014,"color":"#fff"},
          {"offset":0.9557,"color":"#fff"},{"offset":0.9557,"color":"#000"},{"offset":0.9729,"color":"#000"},{"offset":0.9729,"color":"#fff"}]}}},
        {"transform": [{"filter": "datum.t === '400 min' && datum.p === 'th'"}], "mark": {"type": "bar", "stroke": "#000", "strokeWidth": 1.5, "fill": {"gradient": "linear", "x1": 0, "y1": 1, "x2": 1.118, "y2": 0.8436, "stops": [
          {"offset":0.0271,"color":"#fff"},{"offset":0.0271,"color":"#000"},{"offset":0.0443,"color":"#000"},{"offset":0.0443,"color":"#fff"},
          {"offset":0.0986,"color":"#fff"},{"offset":0.0986,"color":"#000"},{"offset":0.1157,"color":"#000"},{"offset":0.1157,"color":"#fff"},
          {"offset":0.17,"color":"#fff"},{"offset":0.17,"color":"#000"},{"offset":0.1871,"color":"#000"},{"offset":0.1871,"color":"#fff"},
          {"offset":0.2414,"color":"#fff"},{"offset":0.2414,"color":"#000"},{"offset":0.2586,"color":"#000"},{"offset":0.2586,"color":"#fff"},
          {"offset":0.3129,"color":"#fff"},{"offset":0.3129,"color":"#000"},{"offset":0.33,"color":"#000"},{"offset":0.33,"color":"#fff"},
          {"offset":0.3843,"color":"#fff"},{"offset":0.3843,"color":"#000"},{"offset":0.4014,"color":"#000"},{"offset":0.4014,"color":"#fff"},
          {"offset":0.4557,"color":"#fff"},{"offset":0.4557,"color":"#000"},{"offset":0.4729,"color":"#000"},{"offset":0.4729,"color":"#fff"},
          {"offset":0.5271,"color":"#fff"},{"offset":0.5271,"color":"#000"},{"offset":0.5443,"color":"#000"},{"offset":0.5443,"color":"#fff"},
          {"offset":0.5986,"color":"#fff"},{"offset":0.5986,"color":"#000"},{"offset":0.6157,"color":"#000"},{"offset":0.6157,"color":"#fff"},
          {"offset":0.67,"color":"#fff"},{"offset":0.67,"color":"#000"},{"offset":0.6871,"color":"#000"},{"offset":0.6871,"color":"#fff"},
          {"offset":0.7414,"color":"#fff"},{"offset":0.7414,"color":"#000"},{"offset":0.7586,"color":"#000"},{"offset":0.7586,"color":"#fff"},
          {"offset":0.8129,"color":"#fff"},{"offset":0.8129,"color":"#000"},{"offset":0.83,"color":"#000"},{"offset":0.83,"color":"#fff"},
          {"offset":0.8843,"color":"#fff"},{"offset":0.8843,"color":"#000"},{"offset":0.9014,"color":"#000"},{"offset":0.9014,"color":"#fff"},
          {"offset":0.9557,"color":"#fff"},{"offset":0.9557,"color":"#000"},{"offset":0.9729,"color":"#000"},{"offset":0.9729,"color":"#fff"}]}}},
        {"transform": [{"filter": "datum.t === '400 min' && datum.p === 'bh'"}], "mark": {"type": "bar", "stroke": "#000", "strokeWidth": 1.5, "fill": {"gradient": "linear", "x1": 0, "y1": 1, "x2": 1.0753, "y2": 0.9112, "stops": [
          {"offset":0.0271,"color":"#fff"},{"offset":0.0271,"color":"#000"},{"offset":0.0443,"color":"#000"},{"offset":0.0443,"color":"#fff"},
          {"offset":0.0986,"color":"#fff"},{"offset":0.0986,"color":"#000"},{"offset":0.1157,"color":"#000"},{"offset":0.1157,"color":"#fff"},
          {"offset":0.17,"color":"#fff"},{"offset":0.17,"color":"#000"},{"offset":0.1871,"color":"#000"},{"offset":0.1871,"color":"#fff"},
          {"offset":0.2414,"color":"#fff"},{"offset":0.2414,"color":"#000"},{"offset":0.2586,"color":"#000"},{"offset":0.2586,"color":"#fff"},
          {"offset":0.3129,"color":"#fff"},{"offset":0.3129,"color":"#000"},{"offset":0.33,"color":"#000"},{"offset":0.33,"color":"#fff"},
          {"offset":0.3843,"color":"#fff"},{"offset":0.3843,"color":"#000"},{"offset":0.4014,"color":"#000"},{"offset":0.4014,"color":"#fff"},
          {"offset":0.4557,"color":"#fff"},{"offset":0.4557,"color":"#000"},{"offset":0.4729,"color":"#000"},{"offset":0.4729,"color":"#fff"},
          {"offset":0.5271,"color":"#fff"},{"offset":0.5271,"color":"#000"},{"offset":0.5443,"color":"#000"},{"offset":0.5443,"color":"#fff"},
          {"offset":0.5986,"color":"#fff"},{"offset":0.5986,"color":"#000"},{"offset":0.6157,"color":"#000"},{"offset":0.6157,"color":"#fff"},
          {"offset":0.67,"color":"#fff"},{"offset":0.67,"color":"#000"},{"offset":0.6871,"color":"#000"},{"offset":0.6871,"color":"#fff"},
          {"offset":0.7414,"color":"#fff"},{"offset":0.7414,"color":"#000"},{"offset":0.7586,"color":"#000"},{"offset":0.7586,"color":"#fff"},
          {"offset":0.8129,"color":"#fff"},{"offset":0.8129,"color":"#000"},{"offset":0.83,"color":"#000"},{"offset":0.83,"color":"#fff"},
          {"offset":0.8843,"color":"#fff"},{"offset":0.8843,"color":"#000"},{"offset":0.9014,"color":"#000"},{"offset":0.9014,"color":"#fff"},
          {"offset":0.9557,"color":"#fff"},{"offset":0.9557,"color":"#000"},{"offset":0.9729,"color":"#000"},{"offset":0.9729,"color":"#fff"}]}}},
        {"transform": [{"filter": "datum.t === '1200 min' && datum.p === 'th'"}], "mark": {"type": "bar", "stroke": "#000", "strokeWidth": 1.5, "fill": {"gradient": "linear", "x1": 0, "y1": 1, "x2": 1.1953, "y2": 0.6285, "stops": [
          {"offset":0.0238,"color":"#fff"},{"offset":0.0238,"color":"#000"},{"offset":0.0388,"color":"#000"},{"offset":0.0388,"color":"#fff"},
          {"offset":0.0863,"color":"#fff"},{"offset":0.0863,"color":"#000"},{"offset":0.1013,"color":"#000"},{"offset":0.1013,"color":"#fff"},
          {"offset":0.1488,"color":"#fff"},{"offset":0.1488,"color":"#000"},{"offset":0.1638,"color":"#000"},{"offset":0.1638,"color":"#fff"},
          {"offset":0.2113,"color":"#fff"},{"offset":0.2113,"color":"#000"},{"offset":0.2263,"color":"#000"},{"offset":0.2263,"color":"#fff"},
          {"offset":0.2738,"color":"#fff"},{"offset":0.2738,"color":"#000"},{"offset":0.2888,"color":"#000"},{"offset":0.2888,"color":"#fff"},
          {"offset":0.3363,"color":"#fff"},{"offset":0.3363,"color":"#000"},{"offset":0.3513,"color":"#000"},{"offset":0.3513,"color":"#fff"},
          {"offset":0.3988,"color":"#fff"},{"offset":0.3988,"color":"#000"},{"offset":0.4138,"color":"#000"},{"offset":0.4138,"color":"#fff"},
          {"offset":0.4613,"color":"#fff"},{"offset":0.4613,"color":"#000"},{"offset":0.4763,"color":"#000"},{"offset":0.4763,"color":"#fff"},
          {"offset":0.5238,"color":"#fff"},{"offset":0.5238,"color":"#000"},{"offset":0.5388,"color":"#000"},{"offset":0.5388,"color":"#fff"},
          {"offset":0.5863,"color":"#fff"},{"offset":0.5863,"color":"#000"},{"offset":0.6013,"color":"#000"},{"offset":0.6013,"color":"#fff"},
          {"offset":0.6488,"color":"#fff"},{"offset":0.6488,"color":"#000"},{"offset":0.6638,"color":"#000"},{"offset":0.6638,"color":"#fff"},
          {"offset":0.7113,"color":"#fff"},{"offset":0.7113,"color":"#000"},{"offset":0.7263,"color":"#000"},{"offset":0.7263,"color":"#fff"},
          {"offset":0.7738,"color":"#fff"},{"offset":0.7738,"color":"#000"},{"offset":0.7888,"color":"#000"},{"offset":0.7888,"color":"#fff"},
          {"offset":0.8363,"color":"#fff"},{"offset":0.8363,"color":"#000"},{"offset":0.8513,"color":"#000"},{"offset":0.8513,"color":"#fff"},
          {"offset":0.8988,"color":"#fff"},{"offset":0.8988,"color":"#000"},{"offset":0.9138,"color":"#000"},{"offset":0.9138,"color":"#fff"},
          {"offset":0.9613,"color":"#fff"},{"offset":0.9613,"color":"#000"},{"offset":0.9763,"color":"#000"},{"offset":0.9763,"color":"#fff"}]}}},
        {"transform": [{"filter": "datum.t === '1200 min' && datum.p === 'bh'"}], "mark": {"type": "bar", "stroke": "#000", "strokeWidth": 1.5, "fill": {"gradient": "linear", "x1": 0, "y1": 1, "x2": 1.1279, "y2": 0.8253, "stops": [
          {"offset":0.0253,"color":"#fff"},{"offset":0.0253,"color":"#000"},{"offset":0.0413,"color":"#000"},{"offset":0.0413,"color":"#fff"},
          {"offset":0.092,"color":"#fff"},{"offset":0.092,"color":"#000"},{"offset":0.108,"color":"#000"},{"offset":0.108,"color":"#fff"},
          {"offset":0.1587,"color":"#fff"},{"offset":0.1587,"color":"#000"},{"offset":0.1747,"color":"#000"},{"offset":0.1747,"color":"#fff"},
          {"offset":0.2253,"color":"#fff"},{"offset":0.2253,"color":"#000"},{"offset":0.2413,"color":"#000"},{"offset":0.2413,"color":"#fff"},
          {"offset":0.292,"color":"#fff"},{"offset":0.292,"color":"#000"},{"offset":0.308,"color":"#000"},{"offset":0.308,"color":"#fff"},
          {"offset":0.3587,"color":"#fff"},{"offset":0.3587,"color":"#000"},{"offset":0.3747,"color":"#000"},{"offset":0.3747,"color":"#fff"},
          {"offset":0.4253,"color":"#fff"},{"offset":0.4253,"color":"#000"},{"offset":0.4413,"color":"#000"},{"offset":0.4413,"color":"#fff"},
          {"offset":0.492,"color":"#fff"},{"offset":0.492,"color":"#000"},{"offset":0.508,"color":"#000"},{"offset":0.508,"color":"#fff"},
          {"offset":0.5587,"color":"#fff"},{"offset":0.5587,"color":"#000"},{"offset":0.5747,"color":"#000"},{"offset":0.5747,"color":"#fff"},
          {"offset":0.6253,"color":"#fff"},{"offset":0.6253,"color":"#000"},{"offset":0.6413,"color":"#000"},{"offset":0.6413,"color":"#fff"},
          {"offset":0.692,"color":"#fff"},{"offset":0.692,"color":"#000"},{"offset":0.708,"color":"#000"},{"offset":0.708,"color":"#fff"},
          {"offset":0.7587,"color":"#fff"},{"offset":0.7587,"color":"#000"},{"offset":0.7747,"color":"#000"},{"offset":0.7747,"color":"#fff"},
          {"offset":0.8253,"color":"#fff"},{"offset":0.8253,"color":"#000"},{"offset":0.8413,"color":"#000"},{"offset":0.8413,"color":"#fff"},
          {"offset":0.892,"color":"#fff"},{"offset":0.892,"color":"#000"},{"offset":0.908,"color":"#000"},{"offset":0.908,"color":"#fff"},
          {"offset":0.9587,"color":"#fff"},{"offset":0.9587,"color":"#000"},{"offset":0.9747,"color":"#000"},{"offset":0.9747,"color":"#fff"}]}}},
        {"data": {"values": [{"t": "RT", "lo": 62.7, "lab": "(a)"}]}, "mark": {"type": "text", "font": "Liberation Sans", "fontSize": 30, "color": "#333", "align": "right", "baseline": "middle", "dx": -4}, "encoding": {"text": {"field": "lab"}, "y2": null}}
      ]
    },
    {
      "width": 526,
      "height": 386,
      "layer": [
        {
          "data": {"name": "pts"},
          "mark": {"type": "point", "filled": true, "opacity": 1, "strokeWidth": 0},
          "encoding": {
            "x": {"field": "x", "type": "quantitative", "scale": {"domain": [0, 500], "nice": false}, "axis": {"title": "NP radius (nm)", "titleFontSize": 28, "titlePadding": 7, "values": [0, 50, 100, 150, 200, 250, 300, 350, 400, 450, 500], "labelExpr": "datum.value % 100 === 0 ? datum.label : ''", "tickSize": {"condition": {"test": "datum.value % 100 === 0", "value": 7}, "value": 4}, "labelFontSize": 18, "labelPadding": 8}},
            "y": {"field": "y", "type": "quantitative", "scale": {"domain": [0, 0.6], "nice": false}, "axis": {"title": "0.41·Kₛₕₑₗₗ/h² (nN/nm³)", "titleFontSize": 31, "titlePadding": 28, "values": [0, 0.05, 0.1, 0.15, 0.2, 0.25, 0.3, 0.35, 0.4, 0.45, 0.5, 0.55, 0.6], "labelExpr": "round(datum.value * 100) % 10 === 0 ? format(datum.value, '.1f') : ''", "tickSize": {"condition": {"test": "round(datum.value * 100) % 10 === 0", "value": 8}, "value": 5}, "labelFontSize": 18, "labelPadding": 4}},
            "color": {"field": "g", "type": "nominal", "scale": {"domain": ["RT", "15 min", "400 min", "1200 min"], "range": ["#000000", "#3953a4", "#15873c", "#ed2024"]}, "legend": {"orient": "none", "legendX": 197, "legendY": 21, "title": null, "labelFont": "Liberation Sans", "labelFontSize": 23.5, "labelFontWeight": "bold", "labelColor": "#000", "labelLimit": 0, "rowPadding": 4, "symbolSize": 18, "labelOffset": 12, "symbolStrokeWidth": 0, "labelExpr": "{'RT': 'RT (h = 2.5 nm)', '15 min': '15 min (h = 4.5 nm)', '400 min': '400 min (h = 6 nm)', '1200 min': '1200 min (h = 12.5 nm)'}[datum.label]"}},
            "shape": {"field": "g", "type": "nominal", "scale": {"domain": ["RT", "15 min", "400 min", "1200 min"], "range": ["circle", "square", "triangle-up", "M0,-1.7L0.382,-0.525L1.617,-0.525L0.618,0.2L0.999,1.375L0,0.649L-0.999,1.375L-0.618,0.2L-1.617,-0.525L-0.382,-0.525Z"]}, "legend": {"orient": "none", "legendX": 197, "legendY": 21, "title": null, "labelFont": "Liberation Sans", "labelFontSize": 23.5, "labelFontWeight": "bold", "labelColor": "#000", "labelLimit": 0, "rowPadding": 4, "symbolSize": 18, "labelOffset": 12, "symbolStrokeWidth": 0, "labelExpr": "{'RT': 'RT (h = 2.5 nm)', '15 min': '15 min (h = 4.5 nm)', '400 min': '400 min (h = 6 nm)', '1200 min': '1200 min (h = 12.5 nm)'}[datum.label]"}},
            "size": {"field": "g", "type": "ordinal", "scale": {"domain": ["RT", "15 min", "400 min", "1200 min"], "range": [34, 30, 50, 60]}, "legend": null}
          }
        },
        {
          "data": {"values": [{"x": 18, "y": 0.053, "lab": "(b)"}]},
          "mark": {"type": "text", "font": "Liberation Sans", "fontSize": 30, "color": "#333", "align": "left", "baseline": "middle"},
          "encoding": {"x": {"field": "x", "type": "quantitative"}, "y": {"field": "y", "type": "quantitative"}, "text": {"field": "lab"}}
        }
      ]
    }
  ]
}
